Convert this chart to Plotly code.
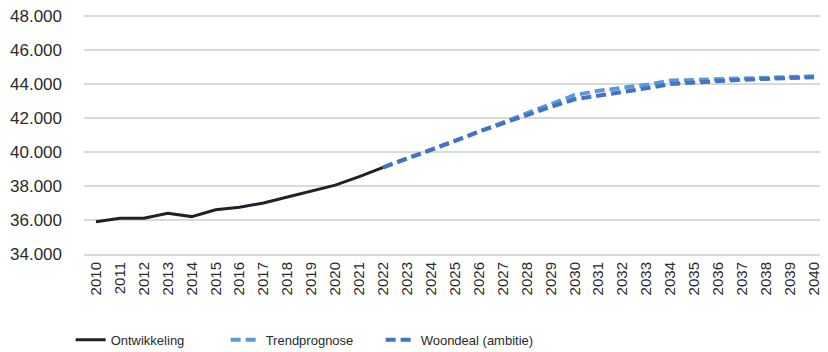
import plotly.graph_objects as go

# jaren en waarden
years = [str(y) for y in range(2010, 2041)]

ontwikkeling = [35900, 36100, 36100, 36400, 36200, 36600, 36750, 37000, 37350,
                37700, 38050, 38550, 39100]

trendprognose = [39100, 39600, 40150, 40650, 41200, 41750, 42300, 42850, 43350,
                 43600, 43750, 43950, 44200, 44250, 44300, 44350, 44400, 44450, 44450]

woondeal = [39100, 39600, 40150, 40650, 41200, 41700, 42150, 42650, 43100,
            43300, 43500, 43750, 44000, 44100, 44200, 44250, 44300, 44350, 44400]

y_ticks = list(range(34000, 48001, 2000))
y_labels = [f"{v // 1000}.000" for v in y_ticks]

FONT = "Liberation Sans, Arial"
TXT = "#2b2b2b"

fig = go.Figure()

fig.add_trace(go.Scatter(
    x=years[:len(ontwikkeling)], y=ontwikkeling, mode="lines", name="Ontwikkeling",
    line=dict(color="#1f2329", width=3)
))
fig.add_trace(go.Scatter(
    x=years[12:], y=trendprognose, mode="lines", name="Trendprognose",
    line=dict(color="#5b9bd5", width=4, dash="10px,5px")
))
fig.add_trace(go.Scatter(
    x=years[12:], y=woondeal, mode="lines", name="Woondeal (ambitie)",
    line=dict(color="#4472c4", width=4, dash="10px,5px")
))

# de pagina heeft 8px body-marge, dus figuur iets kleiner
fig.update_layout(
    width=820, height=344,
    margin=dict(l=76, r=2, t=4, b=98, autoexpand=False),
    plot_bgcolor="white", paper_bgcolor="white",
    font=dict(family=FONT, size=14, color=TXT),
    showlegend=True,
    legend=dict(
        orientation="h", x=-0.018, xanchor="left", y=-0.355, yanchor="middle",
        font=dict(size=13, color=TXT),
        entrywidth=110, entrywidthmode="pixels", itemwidth=30,
        bgcolor="rgba(0,0,0,0)"
    ),
)

fig.update_xaxes(
    type="category", categoryorder="array", categoryarray=years,
    range=[-0.5, len(years) - 0.5], automargin=False,
    tickangle=-90, tickfont=dict(size=15, color=TXT),
    showgrid=False, showline=True, linecolor="#d9d9d9", linewidth=2,
    ticks=""
)
fig.update_yaxes(
    range=[34000, 48235], tickvals=y_ticks, ticktext=y_labels, automargin=False,
    showgrid=True, gridcolor="#d9d9d9", gridwidth=2,
    zeroline=False, ticks="", ticklabelstandoff=21, ticklabeloverflow="allow",
    tickfont=dict(size=17, color=TXT)
)

fig.write_html("out.html")
